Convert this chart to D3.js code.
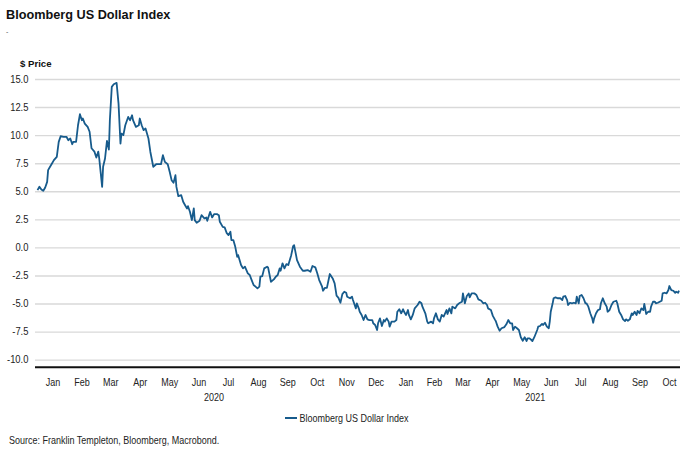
<!DOCTYPE html>
<html lang="en">
<head>
    <meta charset="UTF-8">
    <title>Bloomberg US Dollar Index</title>
    <style>
        html,
        body {
            margin: 0;
            padding: 0;
            background: #fff;
        }

        svg {
            display: block;
            font-family: "Liberation Sans", Arial, sans-serif;
        }
    </style>
</head>
<body>
    <div id="wrapper"></div>

    <script src="https://d3js.org/d3.v7.min.js"></script>
    <script>
        // data (dates, index value)
        const dates = [
            "2020-01-01", "2020-01-03", "2020-01-05", "2020-01-07", "2020-01-09", "2020-01-11", "2020-01-12", "2020-01-14",
            "2020-01-16", "2020-01-18", "2020-01-21", "2020-01-23", "2020-01-25", "2020-01-28", "2020-01-31", "2020-02-02",
            "2020-02-04", "2020-02-06", "2020-02-07", "2020-02-10", "2020-02-12", "2020-02-14", "2020-02-16", "2020-02-17",
            "2020-02-19", "2020-02-22", "2020-02-24", "2020-02-26", "2020-02-29", "2020-03-02", "2020-03-04", "2020-03-05",
            "2020-03-08", "2020-03-09", "2020-03-11", "2020-03-13", "2020-03-15", "2020-03-16", "2020-03-18", "2020-03-20",
            "2020-03-23", "2020-03-25", "2020-03-27", "2020-03-28", "2020-03-30", "2020-04-01", "2020-04-04", "2020-04-06",
            "2020-04-08", "2020-04-09", "2020-04-12", "2020-04-15", "2020-04-16", "2020-04-18", "2020-04-20", "2020-04-22",
            "2020-04-25", "2020-04-27", "2020-04-30", "2020-05-03", "2020-05-05", "2020-05-08", "2020-05-10", "2020-05-12",
            "2020-05-15", "2020-05-17", "2020-05-19", "2020-05-21", "2020-05-23", "2020-05-24", "2020-05-26", "2020-05-29",
            "2020-05-31", "2020-06-02", "2020-06-04", "2020-06-05", "2020-06-07", "2020-06-09", "2020-06-11", "2020-06-12",
            "2020-06-14", "2020-06-17", "2020-06-19", "2020-06-22", "2020-06-24", "2020-06-25", "2020-06-28", "2020-06-30",
            "2020-07-02", "2020-07-05", "2020-07-07", "2020-07-08", "2020-07-11", "2020-07-13", "2020-07-15", "2020-07-17",
            "2020-07-19", "2020-07-20", "2020-07-22", "2020-07-24", "2020-07-26", "2020-07-27", "2020-07-30", "2020-08-01",
            "2020-08-03", "2020-08-06", "2020-08-08", "2020-08-10", "2020-08-12", "2020-08-14", "2020-08-16", "2020-08-18",
            "2020-08-19", "2020-08-21", "2020-08-23", "2020-08-26", "2020-08-27", "2020-08-30", "2020-09-02", "2020-09-04",
            "2020-09-06", "2020-09-08", "2020-09-09", "2020-09-11", "2020-09-13", "2020-09-15", "2020-09-17", "2020-09-20",
            "2020-09-22", "2020-09-23", "2020-09-24", "2020-09-26", "2020-09-29", "2020-10-02", "2020-10-04", "2020-10-07",
            "2020-10-10", "2020-10-12", "2020-10-15", "2020-10-17", "2020-10-19", "2020-10-22", "2020-10-23", "2020-10-25",
            "2020-10-27", "2020-10-30", "2020-11-02", "2020-11-04", "2020-11-06", "2020-11-08", "2020-11-10", "2020-11-12",
            "2020-11-14", "2020-11-16", "2020-11-17", "2020-11-20", "2020-11-22", "2020-11-23", "2020-11-26", "2020-11-27",
            "2020-11-29", "2020-11-30", "2020-12-02", "2020-12-04", "2020-12-06", "2020-12-08", "2020-12-10", "2020-12-13",
            "2020-12-14", "2020-12-16", "2020-12-18", "2020-12-19", "2020-12-21", "2020-12-23", "2020-12-25", "2020-12-26",
            "2020-12-28", "2020-12-30", "2020-12-31", "2021-01-02", "2021-01-05", "2021-01-07", "2021-01-08", "2021-01-10",
            "2021-01-12", "2021-01-14", "2021-01-15", "2021-01-17", "2021-01-19", "2021-01-20", "2021-01-22", "2021-01-24",
            "2021-01-26", "2021-01-29", "2021-01-31", "2021-02-02", "2021-02-03", "2021-02-06", "2021-02-08", "2021-02-09",
            "2021-02-12", "2021-02-14", "2021-02-15", "2021-02-17", "2021-02-19", "2021-02-21", "2021-02-23", "2021-02-25",
            "2021-02-28", "2021-03-01", "2021-03-03", "2021-03-05", "2021-03-06", "2021-03-09", "2021-03-11", "2021-03-13",
            "2021-03-16", "2021-03-17", "2021-03-19", "2021-03-21", "2021-03-23", "2021-03-24", "2021-03-26", "2021-03-29",
            "2021-03-31", "2021-04-02", "2021-04-05", "2021-04-07", "2021-04-09", "2021-04-11", "2021-04-12", "2021-04-15",
            "2021-04-17", "2021-04-19", "2021-04-20", "2021-04-22", "2021-04-24", "2021-04-26", "2021-04-29", "2021-05-01",
            "2021-05-03", "2021-05-05", "2021-05-07", "2021-05-08", "2021-05-10", "2021-05-12", "2021-05-14", "2021-05-16",
            "2021-05-18", "2021-05-20", "2021-05-22", "2021-05-23", "2021-05-25", "2021-05-27", "2021-05-28", "2021-05-30",
            "2021-06-02", "2021-06-03", "2021-06-05", "2021-06-07", "2021-06-08", "2021-06-10", "2021-06-12", "2021-06-14",
            "2021-06-15", "2021-06-16", "2021-06-18", "2021-06-19", "2021-06-21", "2021-06-23", "2021-06-26", "2021-06-28",
            "2021-06-29", "2021-07-01", "2021-07-03", "2021-07-04", "2021-07-06", "2021-07-08", "2021-07-10", "2021-07-12",
            "2021-07-13", "2021-07-15", "2021-07-16", "2021-07-18", "2021-07-20", "2021-07-22", "2021-07-23", "2021-07-25",
            "2021-07-27", "2021-07-29", "2021-07-30", "2021-07-31", "2021-08-02", "2021-08-04", "2021-08-06", "2021-08-07",
            "2021-08-09", "2021-08-11", "2021-08-13", "2021-08-14", "2021-08-16", "2021-08-18", "2021-08-20", "2021-08-23",
            "2021-08-24", "2021-08-26", "2021-08-28", "2021-08-30", "2021-09-01", "2021-09-02", "2021-09-04", "2021-09-06",
            "2021-09-08", "2021-09-09", "2021-09-11", "2021-09-13", "2021-09-14", "2021-09-16", "2021-09-18", "2021-09-20",
            "2021-09-21", "2021-09-23", "2021-09-25", "2021-09-27", "2021-09-28", "2021-09-30", "2021-10-02", "2021-10-03",
            "2021-10-05", "2021-10-07", "2021-10-09", "2021-10-10", "2021-10-12", "2021-10-14", "2021-10-16", "2021-10-17",
            "2021-10-19", "2021-10-21", "2021-10-23", "2021-10-24", "2021-10-26", "2021-10-27"
        ];

        const values = [
            5.10, 5.40, 5.16, 5.04, 5.34, 5.84, 6.88, 7.18,
            7.47, 7.77, 8.07, 9.40, 9.90, 9.85, 9.85, 9.55,
            9.70, 9.19, 9.40, 9.40, 10.88, 11.86, 11.33, 11.48,
            11.03, 10.73, 10.30, 8.83, 8.53, 8.00, 8.53, 7.92,
            5.39, 7.18, 7.92, 9.49, 8.72, 11.33, 14.30, 14.53,
            14.65, 12.81, 9.25, 10.14, 10.00, 10.88, 11.62, 11.33,
            11.77, 11.33, 10.73, 10.88, 11.48, 10.88, 10.44, 10.59,
            9.70, 8.50, 7.18, 7.41, 7.41, 7.41, 8.21, 7.62,
            7.41, 6.73, 5.99, 5.75, 6.43, 5.39, 4.56, 4.65,
            4.06, 3.76, 3.47, 3.67, 3.17, 2.43, 3.47, 2.43,
            2.19, 2.37, 2.87, 2.58, 2.67, 2.37, 3.17, 2.67,
            2.96, 2.96, 2.87, 2.28, 1.83, 1.78, 1.30, 1.09,
            1.39, 0.65, 0.65, 0.05, -0.84, -0.69, -1.57, -1.87,
            -1.72, -2.31, -2.46, -2.91, -3.35, -3.50, -3.65, -3.50,
            -2.61, -2.55, -1.87, -1.72, -1.78, -3.06, -2.85, -2.61,
            -2.46, -1.87, -2.08, -1.42, -1.87, -1.49, -1.57, -0.69,
            0.12, 0.20, -0.24, -1.13, -1.72, -2.08, -2.08, -2.02,
            -2.17, -1.66, -1.78, -2.31, -2.91, -3.50, -3.86, -3.60,
            -3.60, -2.37, -2.76, -3.20, -4.30, -4.50, -4.93, -4.16,
            -3.95, -4.04, -4.39, -4.53, -4.39, -4.69, -5.43, -4.98,
            -5.43, -5.73, -6.02, -6.47, -6.02, -6.41, -6.47, -6.47,
            -6.76, -6.91, -7.36, -6.76, -6.32, -7.00, -6.47, -6.61,
            -6.32, -6.61, -7.06, -6.61, -6.61, -6.47, -5.73, -5.51,
            -5.87, -5.51, -5.73, -6.02, -5.58, -6.02, -6.41, -6.02,
            -5.43, -5.13, -4.84, -4.98, -5.28, -5.87, -6.61, -6.76,
            -6.61, -6.76, -6.32, -5.87, -6.41, -6.61, -6.02, -6.17,
            -5.58, -5.93, -5.43, -5.87, -5.28, -5.43, -5.13, -4.98,
            -4.84, -4.10, -4.98, -4.33, -4.10, -4.45, -4.10, -4.10,
            -4.24, -4.63, -4.75, -4.98, -4.93, -5.13, -5.43, -5.58,
            -6.10, -6.41, -6.55, -7.06, -7.42, -7.20, -7.10, -6.85,
            -6.47, -6.76, -6.76, -7.36, -7.06, -7.20, -7.36, -8.00,
            -8.31, -8.00, -8.34, -8.10, -8.10, -8.25, -8.34, -8.00,
            -7.36, -7.06, -7.00, -6.82, -6.91, -6.71, -7.06, -7.20,
            -6.61, -5.73, -4.98, -4.53, -4.45, -4.53, -4.53, -4.69,
            -4.39, -4.33, -4.69, -5.13, -4.93, -4.98, -4.93, -4.98,
            -4.39, -4.98, -4.33, -4.24, -4.53, -4.98, -4.98, -5.28,
            -5.87, -6.32, -6.71, -6.32, -5.87, -5.58, -5.51, -4.98,
            -4.53, -4.98, -5.28, -5.73, -5.58, -5.13, -4.84, -4.75,
            -4.98, -5.73, -6.02, -6.41, -6.56, -6.41, -6.53, -6.41,
            -5.87, -6.02, -5.73, -6.02, -5.66, -5.87, -5.43, -5.58,
            -5.04, -5.93, -5.73, -5.73, -5.28, -4.84, -4.84, -4.98,
            -4.93, -4.84, -4.75, -4.10, -4.04, -4.10, -3.80, -3.44,
            -3.80, -3.86, -4.04, -3.95, -4.04, -3.86
        ];

        const yTicks = [15, 12.5, 10, 7.5, 5, 2.5, 0, -2.5, -5, -7.5, -10];
        const years = ["2020", "2021"];
        const seriesName = "Bloomberg US Dollar Index";
        const titleText = "Bloomberg US Dollar Index";
        const yLabel = "$ Price";
        const sourceText = "Source: Franklin Templeton, Bloomberg, Macrobond.";

        const width = 696,
            height = 457,
            plotLeft = 35,
            plotRight = 680,
            plotTop = 79,
            plotBottom = 367.3,
            lineColor = "#175b8c",
            gridColor = "#d9d9d9",
            squeeze = 0.9; // narrow look of the original lettering

        const parse = d3.timeParse("%Y-%m-%d");
        const data = dates.map((d, i) => ({ date: parse(d), value: values[i] }));

        const svg = d3.select("#wrapper").append("svg")
            .attr("width", width)
            .attr("height", height);

        svg.append("rect").attr("width", width).attr("height", height).attr("fill", "#fff");

        // scales
        const xScale = d3.scaleTime()
            .domain([parse("2020-01-01"), parse("2021-10-28")])
            .range([37.5, plotRight]);

        const yScale = d3.scaleLinear()
            .domain([-10.68, 15])
            .range([plotBottom, plotTop]);

        // title and stray mark under it
        svg.append("text")
            .attr("x", 6).attr("y", 18.5)
            .attr("font-size", 12.7).attr("font-weight", "bold").attr("fill", "#111")
            .text(titleText);

        svg.append("text")
            .attr("x", 6).attr("y", 34)
            .attr("font-size", 7).attr("fill", "#555")
            .text("-");

        svg.append("text")
            .attr("x", 20).attr("y", 66.7)
            .attr("font-size", 9.6).attr("font-weight", "bold").attr("fill", "#111")
            .text(yLabel);

        // y axis + grid
        const yAxis = d3.axisLeft(yScale)
            .tickValues(yTicks)
            .tickFormat(d => d.toFixed(1))
            .tickSizeInner(-(plotRight - plotLeft))
            .tickSizeOuter(0)
            .tickPadding(7);

        const yAxisG = svg.append("g")
            .attr("transform", `translate(${plotLeft},0)`)
            .call(yAxis);

        yAxisG.select(".domain").remove();
        yAxisG.selectAll(".tick line")
            .attr("stroke", gridColor)
            .attr("stroke-width", 1.4);
        yAxisG.selectAll(".tick text")
            .attr("font-family", "Liberation Sans, Arial, sans-serif")
            .attr("font-size", 10)
            .attr("fill", "#222")
            .attr("transform", "scale(0.94,1)");

        // baseline
        svg.append("line")
            .attr("x1", plotLeft).attr("x2", plotRight)
            .attr("y1", yScale.range()[0]).attr("y2", yScale.range()[0])
            .attr("stroke", "#111").attr("stroke-width", 2);

        // x axis: month names centred in each month
        const months = d3.timeMonth.range(parse("2020-01-01"), parse("2021-11-01"));
        const monthMids = months.map(m => new Date((+m + +d3.timeMonth.offset(m, 1)) / 2));

        const xAxis = d3.axisBottom(xScale)
            .tickValues(monthMids)
            .tickFormat(d3.timeFormat("%b"))
            .tickSize(0)
            .tickPadding(12);

        const xAxisG = svg.append("g")
            .attr("transform", `translate(0,${plotBottom})`)
            .call(xAxis);

        xAxisG.select(".domain").remove();
        xAxisG.selectAll(".tick text")
            .attr("font-family", "Liberation Sans, Arial, sans-serif")
            .attr("font-size", 10)
            .attr("fill", "#222")
            .attr("transform", `scale(${squeeze},1)`);

        // year labels centred under the visible part of each year
        const domainEnd = xScale.domain()[1];
        years.forEach(yr => {
            const start = parse(yr + "-01-01");
            const end = d3.min([parse((+yr + 1) + "-01-01"), domainEnd]);
            const cx = (xScale(start) + xScale(end)) / 2;
            svg.append("text")
                .attr("transform", `translate(${cx},400.5) scale(${squeeze},1)`)
                .attr("text-anchor", "middle")
                .attr("font-size", 10).attr("fill", "#222")
                .text(yr);
        });

        // the series
        const line = d3.line()
            .x(d => xScale(d.date))
            .y(d => yScale(d.value))
            .curve(d3.curveLinear);

        svg.append("path")
            .datum(data)
            .attr("d", line)
            .attr("fill", "none")
            .attr("stroke", lineColor)
            .attr("stroke-width", 1.8)
            .attr("stroke-linejoin", "round");

        // legend
        svg.append("line")
            .attr("x1", 285).attr("x2", 297)
            .attr("y1", 418).attr("y2", 418)
            .attr("stroke", lineColor).attr("stroke-width", 2);

        svg.append("text")
            .attr("transform", `translate(299.5,421.6) scale(${squeeze},1)`)
            .attr("font-size", 10).attr("fill", "#222")
            .text(seriesName);

        // source
        svg.append("text")
            .attr("transform", `translate(9,444.3) scale(${squeeze},1)`)
            .attr("font-size", 10).attr("fill", "#222")
            .text(sourceText);
    </script>
</body>
</html>
